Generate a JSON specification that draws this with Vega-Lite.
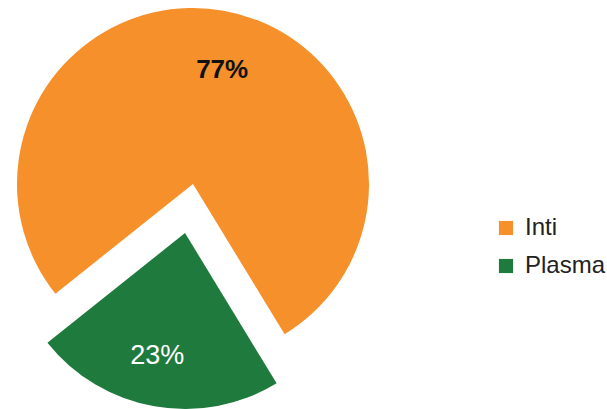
{
  "$schema": "https://vega.github.io/schema/vega-lite/v6.json",
  "padding": 0,
  "width": 386,
  "height": 368,
  "background": "white",
  "config": {"view": {"stroke": null}, "font": "Liberation Sans"},
  "data": {"values": [
    {"category": "Plasma", "value": 23, "order": 1, "label": "23%"},
    {"category": "Inti", "value": 77, "order": 2, "label": "77%"}
  ]},
  "encoding": {
    "theta": {"field": "value", "type": "quantitative", "stack": true, "scale": {"range": [2.594, 8.877]}},
    "order": {"field": "order", "type": "quantitative"}
  },
  "layer": [
    {
      "mark": {"type": "arc", "outerRadius": 176},
      "encoding": {
        "color": {"field": "category", "type": "nominal", "scale": {"domain": ["Inti", "Plasma"], "range": ["#F5902A", "#1F7A3E"]},
          "legend": {"title": null, "orient": "none", "legendX": 494, "legendY": 216, "symbolType": "square", "symbolSize": 200, "symbolStrokeWidth": 0, "labelFontSize": 24, "labelColor": "#222222", "labelFont": "Liberation Sans", "rowPadding": 14, "labelOffset": 7, "padding": 0}},
        "fillOpacity": {"condition": {"test": "datum.category === 'Inti'", "value": 1}, "value": 0}
      }
    },
    {
      "mark": {"type": "arc", "outerRadius": 176, "xOffset": -8, "yOffset": 49},
      "encoding": {
        "color": {"field": "category", "type": "nominal"},
        "fillOpacity": {"condition": {"test": "datum.category === 'Plasma'", "value": 1}, "value": 0}
      }
    },
    {
      "mark": {"type": "text", "radius": 116, "fontSize": 26, "fontWeight": "bold", "color": "#111111", "dx": 9},
      "encoding": {
        "text": {"condition": {"test": "datum.category === 'Inti'", "field": "label"}, "value": ""}
      }
    },
    {
      "mark": {"type": "text", "radius": 125, "fontSize": 27, "color": "white", "xOffset": -8, "yOffset": 49, "dx": -6},
      "encoding": {
        "text": {"condition": {"test": "datum.category === 'Plasma'", "field": "label"}, "value": ""}
      }
    }
  ]
}
